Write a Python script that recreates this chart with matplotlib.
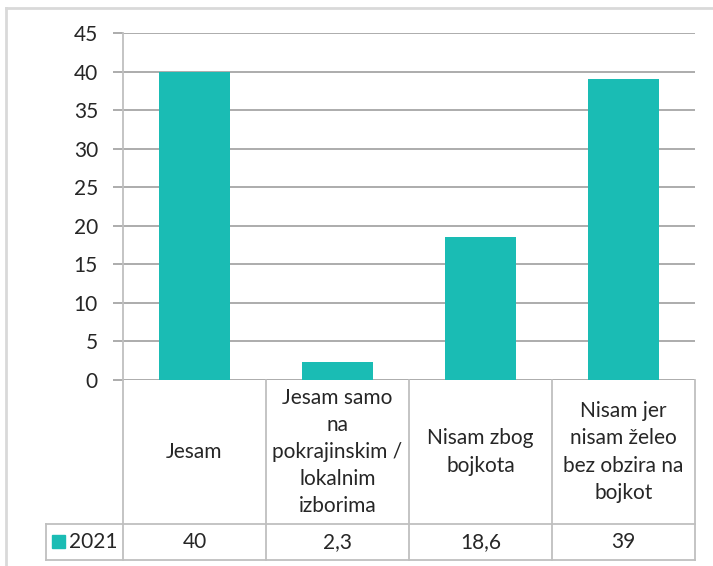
import matplotlib
matplotlib.use("Agg")
import matplotlib.pyplot as plt
from matplotlib.lines import Line2D
from matplotlib.patches import Rectangle
import matplotlib.transforms as mtransforms

categories = ["Jesam", "Jesam samo\nna\npokrajinskim /\nlokalnim\nizborima",
              "Nisam zbog\nbojkota", "Nisam jer\nnisam želeo\nbez obzira na\nbojkot"]
values = [40, 2.3, 18.6, 39]
value_labels = ["40", "2,3", "18,6", "39"]
series_name = "2021"
yticks = [0, 5, 10, 15, 20, 25, 30, 35, 40, 45]

plt.rcParams['font.family'] = ['Lato', 'DejaVu Sans']
TEAL = '#1abcb4'
GRID = '#a6a6a6'
LINE = '#bfbfbf'
TXT = '#262626'
FS = 15

W, H = 713, 566
fig = plt.figure(figsize=(W / 100, H / 100), dpi=100)
ax = fig.add_axes([123 / W, 1 - 380 / H, (695 - 123) / W, (380 - 33) / H])

x = list(range(len(categories)))
ax.bar(x, values, width=0.5, color=TEAL, zorder=3)
ax.set_xlim(-0.5, len(categories) - 0.5)
ax.set_ylim(0, 45)
ax.set_yticks(yticks)
ax.set_yticklabels([str(t) for t in yticks], fontsize=FS, color=TXT)
ax.yaxis.grid(True, color=GRID, linewidth=1.3, zorder=0)
ax.tick_params(axis='y', length=7, width=1.3, color=GRID, pad=11)
ax.tick_params(axis='x', length=0, labelbottom=False)
for s in ['top', 'right', 'bottom']:
    ax.spines[s].set_visible(False)
ax.spines['left'].set_color(LINE)
ax.spines['left'].set_linewidth(1.3)
ax.set_xticks([])

# data table below the axes
ah = 380 - 33
y_mid = -(524 - 380) / ah
y_bot = -(560 - 380) / ah
cw = (695 - 123) / len(categories)
x_leg = -0.5 - (123 - 46) / cw
trans = mtransforms.blended_transform_factory(ax.transData, ax.transAxes)

def hline(y, x0, x1):
    ax.add_line(Line2D([x0, x1], [y, y], transform=trans, color=LINE, lw=1.3, clip_on=False))

def vline(xx, y0, y1):
    ax.add_line(Line2D([xx, xx], [y0, y1], transform=trans, color=LINE, lw=1.3, clip_on=False))

hline(y_mid, x_leg, len(categories) - 0.5)
hline(y_bot, x_leg, len(categories) - 0.5)
vline(x_leg, y_mid, y_bot)
for i in range(len(categories) + 1):
    vline(i - 0.5, 0, y_bot)

for i, (c, v) in enumerate(zip(categories, value_labels)):
    ax.text(i, y_mid / 2, c, transform=trans, ha='center', va='center',
            fontsize=FS, color=TXT, linespacing=1.45, clip_on=False)
    ax.text(i, (y_mid + y_bot) / 2, v, transform=trans, ha='center', va='center',
            fontsize=FS, color=TXT, clip_on=False)

# legend key
ax.add_patch(Rectangle((x_leg + 6 / cw, y_mid + (y_bot - y_mid) * 0.3), 13 / cw,
                       (y_bot - y_mid) * 0.38, transform=trans, color=TEAL, clip_on=False))
ax.text(-0.5 - 5 / cw, (y_mid + y_bot) / 2, series_name, transform=trans, ha='right',
        va='center', fontsize=FS, color=TXT, clip_on=False)

# outer chart border
fig.add_artist(Line2D([6 / W, 6 / W], [0, 1 - 8 / H], transform=fig.transFigure,
                      color='#d9d9d9', lw=2))
fig.add_artist(Line2D([6 / W, 1], [1 - 8 / H, 1 - 8 / H], transform=fig.transFigure,
                      color='#d9d9d9', lw=2))

fig.savefig('out.png', dpi=100)
